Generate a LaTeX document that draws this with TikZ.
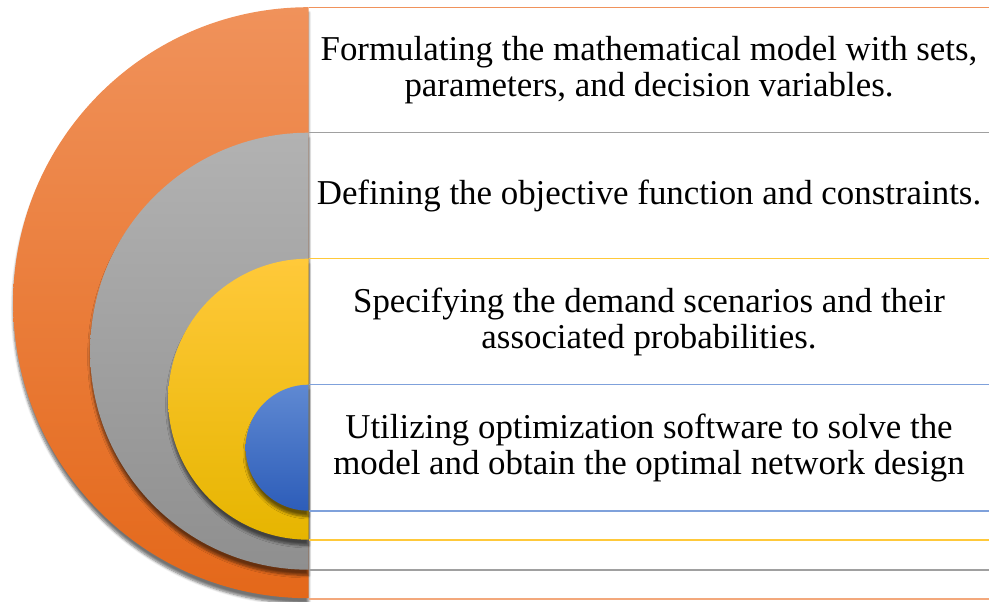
\documentclass[tikz,border=0pt]{standalone}
\usepackage{fontspec}
\setmainfont{Liberation Serif}
\usepackage{xcolor}
\usetikzlibrary{positioning,calc,shadows.blur}

\definecolor{orTop}{HTML}{F0925B}
\definecolor{orBot}{HTML}{E4681A}
\definecolor{grTop}{HTML}{B2B2B2}
\definecolor{grBot}{HTML}{8F8F8F}
\definecolor{yeTop}{HTML}{FFC93A}
\definecolor{yeBot}{HTML}{E6B500}
\definecolor{blTop}{HTML}{5F89D2}
\definecolor{blBot}{HTML}{2D5DB9}

\tikzset{
  stagebox/.style={rectangle,minimum width=17cm,minimum height=3.15cm,align=center,
    inner sep=0pt,font=\fontsize{24.8}{25.6}\selectfont},
  halfdisc/.style={blur shadow={shadow xshift=0pt,shadow yshift=-4pt,shadow opacity=55,shadow blur steps=6}},
  sepline/.style={line width=0.9pt}
}

\begin{document}
\begin{tikzpicture}[x=0.025cm,y=0.025cm]
  \useasboundingbox (0,0) rectangle (989,601);
  % text rows
  \node[stagebox] (s1) at (649,530.5) {Formulating the mathematical model with sets,\\parameters, and decision variables.};
  \node[stagebox] (s2) at (649,405) {Defining the objective function and constraints.};
  \node[stagebox] (s3) at (649,279) {Specifying the demand scenarios and their\\associated probabilities.};
  \node[stagebox] (s4) at (649,153) {Utilizing optimization software to solve the\\model and obtain the optimal network design};
  \coordinate (e4) at (309,90);
  \coordinate (e3) at (309,61);
  \coordinate (e2) at (309,31);
  \coordinate (e1) at (309,2);
  % nested half discs
  \shade[top color=orTop,bottom color=orBot,halfdisc] (s1.north west) arc[start angle=90,end angle=270,radius=295.5] -- cycle;
  \shade[top color=grTop,bottom color=grBot,halfdisc] (s2.north west) arc[start angle=90,end angle=270,radius=218.5] -- cycle;
  \shade[top color=yeTop,bottom color=yeBot,halfdisc] (s3.north west) arc[start angle=90,end angle=270,radius=140.5] -- cycle;
  \shade[top color=blTop,bottom color=blBot,halfdisc] (s4.north west) arc[start angle=90,end angle=270,radius=63] -- cycle;
  % separator lines
  \draw[sepline,orTop] (s1.north west) -- (s1.north east);
  \draw[sepline,grTop!90!black] (s2.north west) -- (s2.north east);
  \draw[sepline,yeTop] (s3.north west) -- (s3.north east);
  \draw[sepline,blTop!80!white] (s4.north west) -- (s4.north east);
  \draw[sepline,blTop!80!white] (e4) -- (e4 -| s4.east);
  \draw[sepline,yeTop] (e3) -- (e3 -| s4.east);
  \draw[sepline,grTop!90!black] (e2) -- (e2 -| s4.east);
  \draw[sepline,orTop!80!white] (e1) -- (e1 -| s4.east);
\end{tikzpicture}
\end{document}
